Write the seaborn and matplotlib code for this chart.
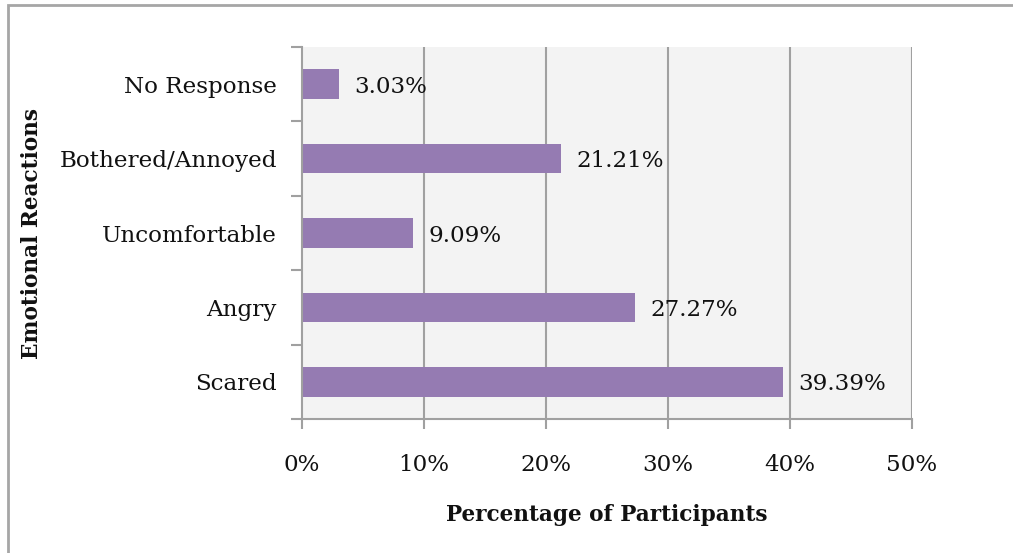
import matplotlib
matplotlib.use("Agg")
import matplotlib.pyplot as plt
import seaborn as sns
import pandas as pd
from matplotlib.patches import Rectangle
from matplotlib.ticker import FixedLocator, FuncFormatter

# Survey results: share of participants reporting each emotional reaction
reactions = ["No Response", "Bothered/Annoyed", "Uncomfortable", "Angry", "Scared"]
percentages = [3.03, 21.21, 9.09, 27.27, 39.39]
x_ticks = [0, 10, 20, 30, 40, 50]

df = pd.DataFrame({"Reaction": reactions, "Percent": percentages})

sns.set_theme(style="white")
plt.rcParams["font.family"] = ["DejaVu Serif"]

bar_color = "#957BB2"
grid_color = "#A0A0A0"
text_color = "#111111"
fs = 16.6

fig = plt.figure(figsize=(10.13, 5.53), dpi=100)
ax = fig.add_axes([0.2981, 0.2423, 0.6022, 0.6727])
ax.set_facecolor("#F3F3F3")

sns.barplot(data=df, y="Reaction", x="Percent", order=reactions,
            color=bar_color, saturation=1, width=0.4, orient="h", ax=ax,
            linewidth=0, edgecolor="none", zorder=3)

ax.set_xlim(0, 50)
ax.set_ylim(len(reactions) - 0.5, -0.5)

# Vertical gridlines
for xv in x_ticks[1:]:
    ax.axvline(xv, color=grid_color, lw=1.5, zorder=1)

# Spines
for side in ["top", "right"]:
    ax.spines[side].set_visible(False)
for side in ["left", "bottom"]:
    ax.spines[side].set_color(grid_color)
    ax.spines[side].set_linewidth(1.5)
    ax.spines[side].set_zorder(4)

# x axis ticks
ax.xaxis.set_major_locator(FixedLocator(x_ticks))
ax.xaxis.set_major_formatter(FuncFormatter(lambda v, p: f"{v:.0f}%"))
ax.tick_params(axis="x", which="major", length=7, width=1.5, color=grid_color,
               direction="out", pad=18, labelsize=fs, labelcolor=text_color,
               bottom=True)

# y axis: labels at category centers, ticks at boundaries
ax.tick_params(axis="y", which="major", length=0, pad=18, labelsize=fs,
               labelcolor=text_color, left=True)
ax.yaxis.set_minor_locator(FixedLocator([i - 0.5 for i in range(len(reactions) + 1)]))
ax.tick_params(axis="y", which="minor", length=8, width=1.5, color=grid_color,
               direction="out", left=True)

ax.set_xlabel("Percentage of Participants", fontsize=15.6, fontweight="bold",
              color=text_color, labelpad=20)
ax.set_ylabel("Emotional Reactions", fontsize=15.6, fontweight="bold",
              color=text_color, labelpad=12)

# Value labels at the bar ends
for container in ax.containers:
    texts = ax.bar_label(container, labels=[f"{v:.2f}%" for v in percentages],
                         padding=11, fontsize=fs, color=text_color)
    for t in texts:
        t.set_va("center_baseline")

# Chart-area border
fig.patches.append(Rectangle((8 / 1013, -0.1), 1.2, 1 - 5 / 553 + 0.1,
                             transform=fig.transFigure, fill=False,
                             edgecolor="#A6A6A6", lw=2, clip_on=False))

fig.savefig("out.png", dpi=100)
